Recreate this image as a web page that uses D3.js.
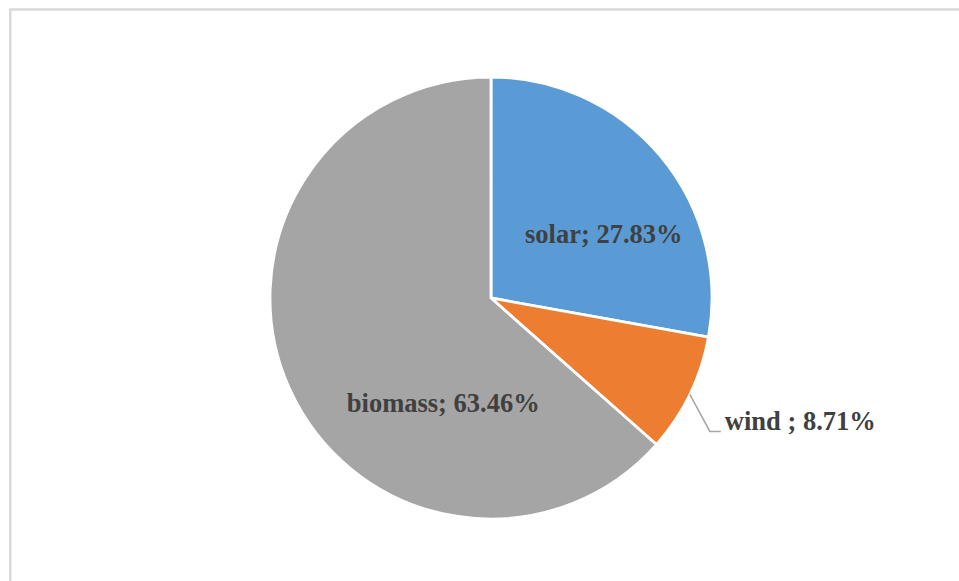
<!DOCTYPE html>
<html>
<head>
<meta charset="utf-8">
<script src="https://cdn.jsdelivr.net/npm/d3@7.9.0/dist/d3.min.js"></script>
<style>
  html, body { margin: 0; padding: 0; background: #fff; }
  svg { display: block; }
  .label { font-family: "Liberation Serif", "Times New Roman", serif; font-weight: bold; font-size: 26.5px; fill: #404040; }
</style>
</head>
<body>
<svg id="chart" width="959" height="581"></svg>
<script>
// data
const categories = ['solar', 'wind ', 'biomass'];
const shares = [27.83, 8.71, 63.46];
const colors = ['#5B9BD5', '#ED7D31', '#A5A5A5'];

const width = 959, height = 581;
const cx = 491, cy = 298, radius = 221;

// label layout (nudges from the arc centroid, like Excel's best fit)
const labelLayout = {
  'solar': { inside: true, dx: 28, dy: 16 },
  'wind ': { inside: false },
  'biomass': { inside: true, dx: 53, dy: 69 }
};

const svg = d3.select('#chart');

// chart area border
svg.append('rect')
  .attr('x', 10.25).attr('y', 9.5)
  .attr('width', 1200).attr('height', 1200)
  .attr('fill', 'none')
  .attr('stroke', '#d9d9d9')
  .attr('stroke-width', 2.5);

const data = categories.map((c, i) => ({ label: c, value: shares[i], color: colors[i] }));

let pie = d3.pie().sort(null).value(d => d.value);
let arcData = pie(data);
let arcGen = d3.arc().innerRadius(0).outerRadius(radius);

const g = svg.append('g').attr('transform', `translate(${cx},${cy})`);

g.selectAll('path')
  .data(arcData)
  .join('path')
  .attr('d', arcGen)
  .attr('fill', d => d.data.color)
  .attr('stroke', '#fff')
  .attr('stroke-width', 2.8)
  .attr('stroke-linejoin', 'round');

arcData.forEach(d => {
  let lay = labelLayout[d.data.label];
  let text = `${d.data.label}; ${d.data.value.toFixed(2)}%`;
  if (lay.inside) {
    let [x, y] = arcGen.centroid(d);
    g.append('text')
      .attr('class', 'label')
      .attr('x', x + lay.dx)
      .attr('y', y + lay.dy)
      .attr('text-anchor', 'middle')
      .text(text);
  } else {
    // leader line from the slice edge out to the right
    let mid = (d.startAngle + d.endAngle) / 2;
    let p0 = [Math.sin(mid) * radius, -Math.cos(mid) * radius];
    let p1 = [p0[0] + 20, p0[1] + 37];
    let p2 = [p1[0] + 11, p1[1]];
    g.append('path')
      .attr('d', d3.line()([p0, p1, p2]))
      .attr('fill', 'none')
      .attr('stroke', '#a6a6a6')
      .attr('stroke-width', 1.5);
    g.append('text')
      .attr('class', 'label')
      .attr('x', p2[0] + 4)
      .attr('y', p2[1] - 1)
      .attr('text-anchor', 'start')
      .text(text);
  }
});
</script>
</body>
</html>
